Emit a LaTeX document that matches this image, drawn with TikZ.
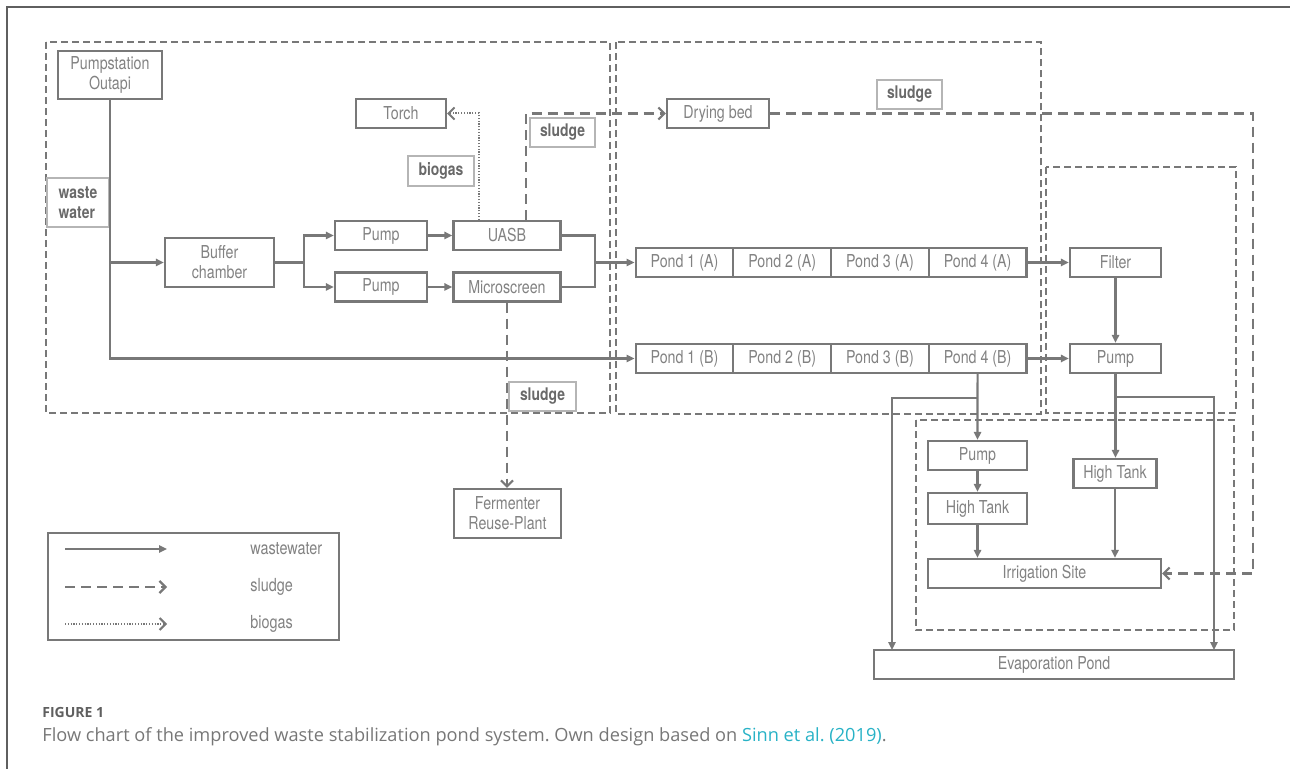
\documentclass[tikz,border=0pt]{standalone}
\usepackage{fontspec}
\setmainfont{TeX Gyre Heros}[FakeStretch=0.8]
\newfontfamily\capfont{Open Sans}
\usepackage{tikz}
\usetikzlibrary{arrows.meta,positioning}
\definecolor{linegray}{RGB}{120,120,120}
\definecolor{txtgray}{RGB}{130,130,130}
\definecolor{taggray}{RGB}{105,105,105}
\definecolor{capgray}{RGB}{95,95,95}
\definecolor{linkteal}{RGB}{40,178,198}
\tikzstyle{block} = [draw=linegray, line width=1.1pt, text=txtgray, inner sep=0pt, minimum height=14.5pt, align=center, font=\fontsize{8.9}{10}\selectfont]
\tikzstyle{tag} = [draw=linegray!55, line width=0.6pt, text=taggray, inner sep=0pt, minimum height=14.5pt, font=\bfseries\fontsize{8.7}{10}\selectfont]
\tikzstyle{pipe} = [draw=linegray, line width=1.1pt]
\tikzstyle{flow} = [pipe, -{Triangle[length=4pt,width=3.6pt]}]
\tikzstyle{sludgeflow} = [pipe, dash pattern=on 5pt off 3pt, -{Straight Barb[length=3pt,width=6pt]}]
\tikzstyle{gasflow} = [draw=linegray, line width=1pt, dash pattern=on 0.6pt off 0.8pt, -{Straight Barb[length=3pt,width=6pt]}]
\tikzstyle{zone} = [draw=linegray, line width=1pt, dash pattern=on 3.5pt off 2pt]

\begin{document}
\begin{tikzpicture}[x=0.5pt,y=-0.5pt,node distance=48.85pt]
\useasboundingbox (0,0) rectangle (1290,769);
% frame of the figure panel
\draw[capgray, line width=0.8pt] (1290,7) -- (7,7) -- (7,769);

% dashed zones
\draw[zone] (45.5,42.5) rectangle (610,413);
\draw[zone] (615.5,42.5) rectangle (1040.5,414);
\draw[zone] (1046,167) rectangle (1236,413);
\draw[zone] (915.5,420.5) rectangle (1234,630);

% treatment units
\node[block, minimum width=52pt, minimum height=24pt] (pumpst) at (110,75) {Pumpstation\\Outapi};
\node[block, minimum width=54.5pt, minimum height=24.5pt] (buffer) at (219.5,262.5) {Buffer\\chamber};
\node[block, minimum width=46pt] (pumpU) at (381,235.5) {Pump};
\node[block, minimum width=46pt] (pumpM) at (381,287) {Pump};
\node[block, minimum width=53.5pt] (uasb) at (507,235.5) {UASB};
\node[block, minimum width=53.5pt] (micro) at (507,287) {Microscreen};
\node[block, minimum width=45pt] (torch) at (401,113.5) {Torch};
\node[block, minimum width=51pt] (dry) at (718,113.5) {Drying bed};
\node[block, minimum width=53.5pt, minimum height=24.5pt] (ferm) at (507.5,513.5) {Fermenter\\Reuse-Plant};

% pond lines
\node[block, minimum width=48.85pt] (pondA1) at (684.5,262.5) {Pond 1 (A)};
\node[block, minimum width=48.85pt, right of=pondA1] (pondA2) {Pond 2 (A)};
\node[block, minimum width=48.85pt, right of=pondA2] (pondA3) {Pond 3 (A)};
\node[block, minimum width=48.85pt, right of=pondA3] (pondA4) {Pond 4 (A)};
\node[block, minimum width=48.85pt] (pondB1) at (684.5,358.5) {Pond 1 (B)};
\node[block, minimum width=48.85pt, right of=pondB1] (pondB2) {Pond 2 (B)};
\node[block, minimum width=48.85pt, right of=pondB2] (pondB3) {Pond 3 (B)};
\node[block, minimum width=48.85pt, right of=pondB3] (pondB4) {Pond 4 (B)};

\node[block, minimum width=45.5pt] (filter) at (1115.5,262.5) {Filter};
\node[block, minimum width=45.5pt] (pumpR) at (1115.5,358.5) {Pump};
\node[block, minimum width=49.5pt] (pumpL) at (977.5,455.5) {Pump};
\node[block, minimum width=49.5pt, minimum height=15.5pt] (tankL) at (977.5,508.5) {High Tank};
\node[block, minimum width=41.5pt] (tankR) at (1115,473.5) {High Tank};
\node[block, minimum width=116.5pt] (irrig) at (1044.5,573.5) {Irrigation Site};
\node[block, minimum width=180pt] (evap) at (1054,664.5) {Evaporation Pond};

% flow labels
\node[tag, minimum width=31pt, minimum height=24.5pt, align=left] (wwtag) at (78,202.5) {waste\\water};
\node[tag, minimum width=33pt, minimum height=15pt] (gastag) at (441,171) {biogas};
\node[tag, minimum width=32.5pt] (sludgetagA) at (562.5,132.5) {sludge};
\node[tag, minimum width=32.5pt] (sludgetagB) at (909.5,94.5) {sludge};
\node[tag, minimum width=33.5pt] (sludgetagC) at (542.5,396.5) {sludge};

% wastewater
\coordinate (split) at (304,262.5);
\coordinate (merge) at (595,262.5);
\draw[flow] (pumpst.south) |- (pondB1.west);
\draw[flow] (pumpst.south |- buffer.west) -- (buffer.west);
\draw[pipe] (buffer.east) -- (split);
\draw[flow] (split) |- (pumpU.west);
\draw[flow] (split) |- (pumpM.west);
\draw[flow] (pumpU.east) -- (uasb.west);
\draw[flow] (pumpM.east) -- (micro.west);
\draw[pipe] (uasb.east) -| (merge) |- (micro.east);
\draw[flow] (merge) -- (pondA1.west);
\draw[flow] (pondA4.east) -- (filter.west);
\draw[flow] (pondB4.east) -- (pumpR.west);
\draw[flow] (filter.south) -- (pumpR.north);
\draw[flow] (pumpR.south) -- (pumpR.south |- tankR.north);
\draw[flow] (pondB4.south) -- (pumpL.north);
\draw[flow] (pumpL.south) -- (tankL.north);
\draw[flow] (tankL.south) -- (tankL.south |- irrig.north);
\draw[flow] (tankR.south) -- (tankR.south |- irrig.north);
\coordinate (lbranch) at (977.5,398);
\coordinate (rbranch) at (1115.5,397);
\coordinate (evapL) at (892,650);
\coordinate (evapR) at (1214,650);
\draw[flow] (lbranch) -| (evapL);
\draw[flow] (rbranch) -| (evapR);

% sludge and biogas
\coordinate (sludgeturn) at (1253,113.5);
\draw[sludgeflow] ([xshift=9.5pt]uasb.north) |- (dry.west);
\draw[sludgeflow] (dry.east) -- (sludgeturn) |- (irrig.east);
\draw[sludgeflow] (micro.south) -- (micro.south |- ferm.north);
\draw[gasflow] ([xshift=-14pt]uasb.north) |- (torch.east);

% legend
\node[draw=linegray, line width=1.1pt, minimum width=145.5pt, minimum height=53.5pt, inner sep=0pt] (legend) at (193.5,586.5) {};
\coordinate (lw1) at (65,549);   \coordinate (lw2) at (167,549);
\coordinate (ls1) at (65,587);   \coordinate (ls2) at (167,587);
\coordinate (lb1) at (65,624);   \coordinate (lb2) at (167,624);
\draw[flow] (lw1) -- (lw2);
\draw[sludgeflow] (ls1) -- (ls2);
\draw[gasflow] (lb1) -- (lb2);
\node[anchor=west, inner sep=0pt, text=txtgray, font=\fontsize{9}{10}\selectfont] (lgwaste) at (250,549) {wastewater};
\node[anchor=west, inner sep=0pt, text=txtgray, font=\fontsize{9}{10}\selectfont] (lgsludge) at (250,587) {sludge};
\node[anchor=west, inner sep=0pt, text=txtgray, font=\fontsize{9}{10}\selectfont] (lggas) at (250,624) {biogas};

% caption
\node[anchor=base west, inner sep=0pt, text=capgray, font=\capfont\bfseries\fontsize{7}{8}\selectfont] (figno) at (42,717) {FIGURE 1};
\node[anchor=base west, inner sep=0pt, text=capgray!85, font=\capfont\frenchspacing\fontsize{9.1}{10}\selectfont] (caption) at (42,741)
  {Flow chart of the improved waste stabilization pond system. Own design based on \textcolor{linkteal}{Sinn et al. (2019)}.};
\end{tikzpicture}
\end{document}
